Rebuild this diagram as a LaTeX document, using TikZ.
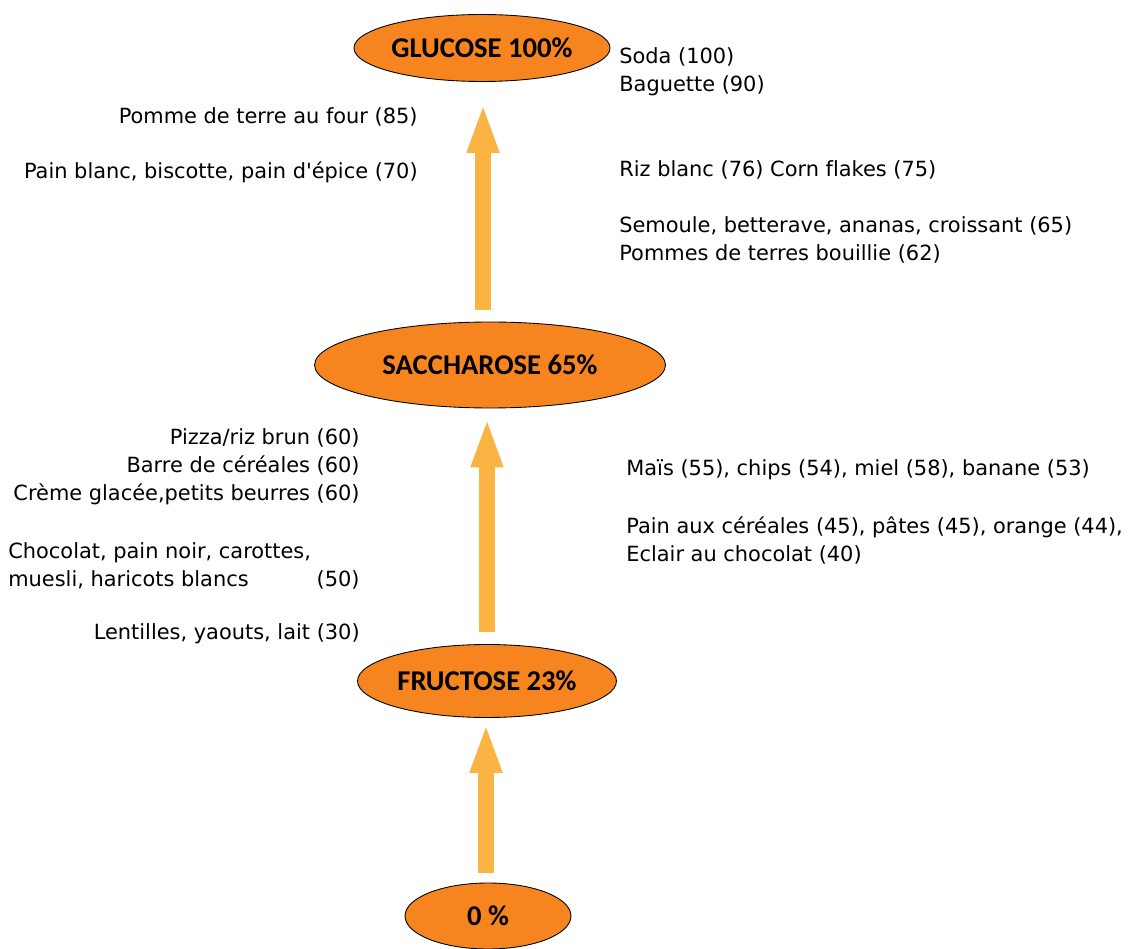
\documentclass[tikz,border=0pt]{standalone}
\usepackage{fontspec}
\setmainfont{DejaVu Sans}[Ligatures=NoCommon]
\newfontfamily\sucrefont{Carlito}
\usetikzlibrary{arrows.meta, shapes.geometric, positioning}

\definecolor{sucreorange}{HTML}{F7851F}
\definecolor{flecheorange}{HTML}{FBB444}

\begin{document}
\begin{tikzpicture}[x=0.02cm, y=-0.02cm,
    sucre/.style={ellipse, draw=black, line width=0.5pt, fill=sucreorange, inner sep=0pt,
                  font=\sucrefont\bfseries\fontsize{16.3}{18}\selectfont},
    aliment/.style={font=\fontsize{11.9}{15.9}\selectfont, inner sep=0pt},
    fleche/.style={draw=flecheorange, line width=0.32cm,
                   -{Triangle[length=1cm, width=0.58cm]}}]

    \useasboundingbox (0 , 0) rectangle (1130 , 949);

    \node [sucre, minimum width=5cm, minimum height=1.34cm] (glucose) at (482 , 48) {GLUCOSE 100\%};
    \node [sucre, minimum width=7.02cm, minimum height=1.72cm] (saccharose) at (490 , 365) {SACCHAROSE 65\%};
    \node [sucre, minimum width=5.18cm, minimum height=1.46cm] (fructose) at (487 , 681) {FRUCTOSE 23\%};
    \node [sucre, minimum width=3.32cm, minimum height=1.32cm] (zero) at (488 , 916) {0 \%};

    \coordinate (axe1) at (486 , 0);
    \coordinate (axe2) at (487 , 0);
    \coordinate (axe3) at (483 , 0);
    \draw[fleche, shorten <=0.2cm, shorten >=0.1cm] (zero.north -| axe1) -- (fructose.south -| axe1);
    \draw[fleche, shorten <=0.24cm, shorten >=0.18cm] (fructose.north -| axe2) -- (saccharose.south -| axe2);
    \draw[fleche, shorten <=0.24cm, shorten >=0.42cm] (saccharose.north -| axe3) -- (glucose.south -| axe3);

    % glucose -> saccharose
    \node [aliment, anchor=west, align=left] (soda) at (619 , 71.5) {Soda (100)\\Baguette (90)};
    \node [aliment, anchor=west] (riz) at (619 , 170) {Riz blanc (76) Corn flakes (75)};
    \node [aliment, anchor=west, align=left] (semoule) at (619 , 240) {Semoule, betterave, ananas, croissant (65)\\Pommes de terres bouillie (62)};
    \node [aliment, anchor=east] (pomme) at (418 , 117) {Pomme de terre au four (85)};
    \node [aliment, anchor=east] (painblanc) at (418 , 172) {Pain blanc, biscotte, pain d\textquotesingle épice (70)};

    % saccharose -> fructose
    \node [aliment, anchor=east, align=right] (pizza) at (360 , 467) {Pizza/riz brun (60)\\Barre de céréales (60)\\Crème glacée,petits beurres (60)};
    \node [aliment, anchor=west, align=left] (chocolat) at (8 , 565.5) {Chocolat, pain noir, carottes,\\muesli, haricots blancs};
    \node [aliment, anchor=east] (cinquante) at (360 , 580) {(50)};
    \node [aliment, anchor=east] (lentilles) at (360 , 634) {Lentilles, yaouts, lait (30)};
    \node [aliment, anchor=west] (mais) at (626 , 470) {Maïs (55), chips (54), miel (58), banane (53)};
    \node [aliment, anchor=west, align=left] (painaux) at (626 , 540.5) {Pain aux céréales (45), pâtes (45), orange (44),\\Eclair au chocolat (40)};
\end{tikzpicture}
\end{document}
